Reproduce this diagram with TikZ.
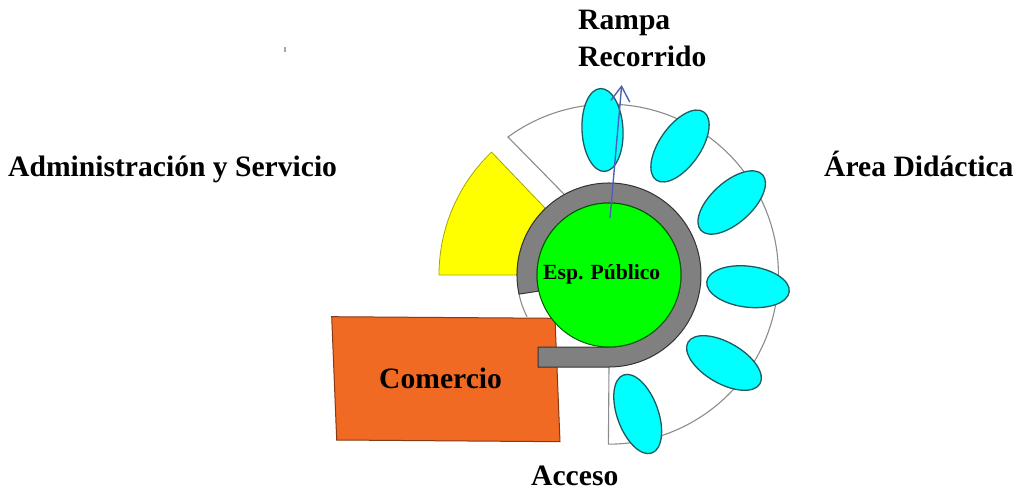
\documentclass[tikz,border=0pt]{standalone}
\usepackage{fontspec}
\setmainfont{Liberation Serif}
\usepackage{tikz}
\usetikzlibrary{positioning}
\usetikzlibrary{arrows.meta}
\usetikzlibrary{shapes.geometric}
\definecolor{naranja}{HTML}{F06A24}
\definecolor{rampa}{HTML}{4F5FB5}
\definecolor{borde}{HTML}{1F5A60}
\definecolor{celeste}{HTML}{00FFFF}
\definecolor{amarillo}{HTML}{FFFF00}
\definecolor{verde}{HTML}{00FF00}

\begin{document}
\begin{tikzpicture}[x=1pt, y=1pt, >={Straight Barb[length=15pt,width=19pt]},
	lbl/.style={font=\fontsize{29.6}{36.7}\selectfont\bfseries, inner sep=0pt, anchor=base west},
	sala/.style={ellipse, draw=borde, fill=celeste, line width=1.3pt, minimum width=83pt, minimum height=41pt, inner sep=0pt}]
					%\draw[step=50,gray,very thin] (-600,-200) grid (400,270);
					\useasboundingbox (-609,-217) rectangle (407,275);
					\draw[gray!90, line width=1.1pt, fill=white] (119:92) -- (-101,138) arc[start angle=126.2, end angle=-90, radius=170] -- (0,-92);
					\draw[gray!90, line width=1.1pt] (192:92) arc[start angle=192, end angle=207, radius=92];
					\draw[amarillo!65!black, fill=amarillo, line width=0.8pt] (-170,0) -- (-92,0) arc[start angle=180, end angle=133.7, radius=92] -- (133.7:170) arc[start angle=133.7, end angle=180, radius=170] -- cycle;
					\fill[naranja, draw=naranja!55!black, line width=1pt] (-277.3,-41.7) -- (-54,-43.3) -- (-49,-166.7) -- (-272.3,-165) -- cycle;
					\draw[black!80, fill=gray, line width=1pt] (192:92) arc[start angle=192, end angle=-90, radius=92] -- (-71,-92) -- (-71,-72) -- (0,-72) arc[start angle=-90, end angle=192.9, radius=72] -- cycle;
					\draw[verde!35!black, fill=verde, line width=1pt] (0,0) circle [radius=72];
					\foreach \i/\px/\py/\o in {1/-6.5/145/93, 2/71/129/55, 3/122.7/72.5/42, 4/139/-11.7/-7, 5/115/-88/-30, 6/28.7/-139/110}
					\node[sala, rotate=\o] (s\i) at (\px,\py) {};
					\draw[gray!70, line width=1.6pt] (-324,228) -- (-324,223);
					\coordinate (rbase) at (1,57);
					\coordinate (rtip) at (12.7,190);
					\draw[->, rampa, line width=1.4pt] (rbase) -- (rtip);
					\node[lbl] (rampa) at (-31,245) {Rampa};
					\node[lbl] (recorrido) at (-31,208.3) {Recorrido};
					\node[lbl] (admin) at (-601,98) {Administración y Servicio};
					\node[lbl] (area) at (215,98) {Área Didáctica};
					\node[lbl] (comercio) at (-230,-113) {Comercio};
					\node[lbl] (acceso) at (-78,-210.5) {Acceso};
					\node[lbl, font=\fontsize{21.6}{26}\selectfont\bfseries] (esp) at (-66,-4.3) {Esp. Público};
				\end{tikzpicture}
\end{document}
